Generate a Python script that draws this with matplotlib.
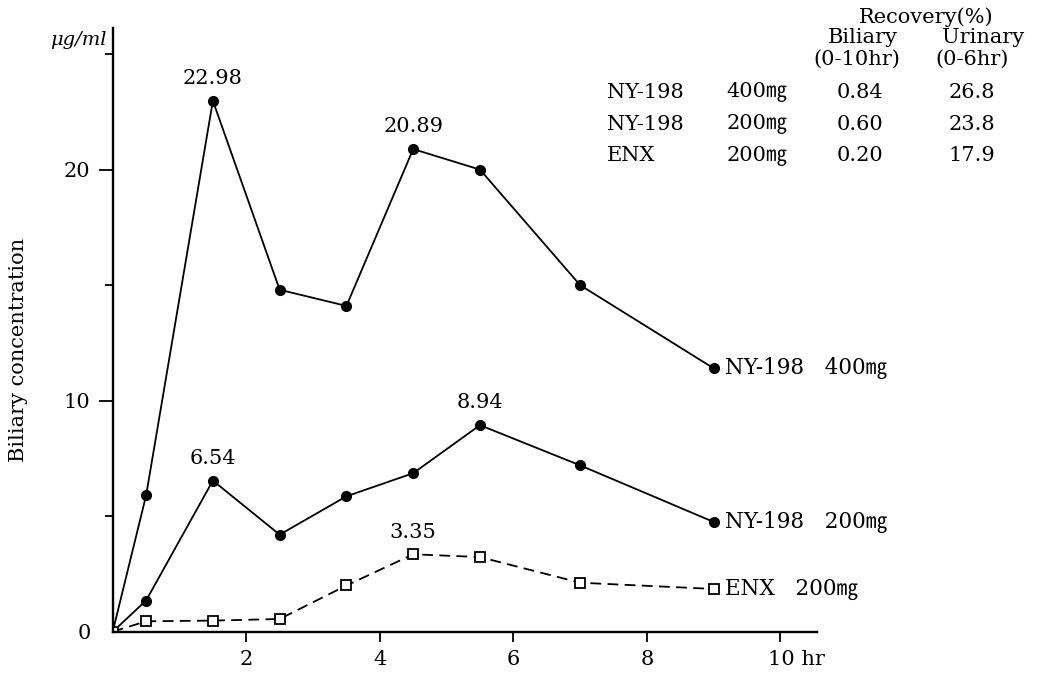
import matplotlib
matplotlib.use("Agg")
import matplotlib.pyplot as plt
import matplotlib.transforms as mtransforms
from matplotlib.ticker import FixedLocator

plt.rcParams['font.family'] = ['DejaVu Serif', 'Noto Sans CJK JP']

# ---- data ----
time_hr = [0, 0.5, 1.5, 2.5, 3.5, 4.5, 5.5, 7, 9]
ny198_400 = [0, 5.9, 22.98, 14.8, 14.1, 20.89, 20.0, 15.0, 11.4]
ny198_200 = [0, 1.35, 6.54, 4.2, 5.86, 6.86, 8.94, 7.2, 4.75]
enx_200 = [0, 0.45, 0.48, 0.55, 2.0, 3.35, 3.23, 2.12, 1.85]

series_labels = ["NY-198   400㎎", "NY-198   200㎎", "ENX   200㎎"]
peak_labels = [(1.5, 22.98, "22.98"), (4.5, 20.89, "20.89"),
               (1.5, 6.54, "6.54"), (5.5, 8.94, "8.94"), (4.5, 3.35, "3.35")]

xtick_vals = [2, 4, 6, 8, 10]
xtick_labels = ["2", "4", "6", "8", "10 hr"]
ytick_major = [0, 10, 20]
ytick_minor = [5, 15, 25]

table_drugs = ["NY-198", "NY-198", "ENX"]
table_doses = ["400㎎", "200㎎", "200㎎"]
table_biliary = ["0.84", "0.60", "0.20"]
table_urinary = ["26.8", "23.8", "17.9"]

# ---- figure ----
fig = plt.figure(figsize=(10.39, 6.78), dpi=100)
ax = fig.add_axes([0.1085, 0.0683, 0.678, 0.8904])
ax.set_xlim(0, 10.55)
ax.set_ylim(0, 26.13)

for s in ["top", "right"]:
    ax.spines[s].set_visible(False)
for s in ["left", "bottom"]:
    ax.spines[s].set_linewidth(1.7)

ax.plot(time_hr, ny198_400, color="black", lw=1.3, marker="o", ms=7, mfc="black", mec="black")
ax.plot(time_hr, ny198_200, color="black", lw=1.3, marker="o", ms=7, mfc="black", mec="black")
ax.plot(time_hr, enx_200, color="black", lw=1.3, ls=(0, (6, 3.5)), marker="s", ms=6.5,
        mfc="white", mec="black", mew=1.3)

# end labels
for ys, lab in zip([ny198_400, ny198_200, enx_200], series_labels):
    ax.annotate(lab, xy=(time_hr[-1], ys[-1]), xytext=(8, 0), textcoords="offset points",
                ha="left", va="center", fontsize=15.5)

# peak labels
for x, y, t in peak_labels:
    ax.annotate(t, xy=(x, y), xytext=(0, 16), textcoords="offset points",
                ha="center", va="center", fontsize=15)

# ticks
ax.set_xticks(xtick_vals)
ax.set_xticklabels(xtick_labels, fontsize=15)
ax.tick_params(axis="x", direction="out", length=7, width=1.3, pad=6)
off = mtransforms.ScaledTranslation(-12 / 100, 0, fig.dpi_scale_trans)
lbl10 = ax.get_xticklabels()[-1]
lbl10.set_horizontalalignment("left")
lbl10.set_transform(lbl10.get_transform() + off)

ax.set_yticks(ytick_major)
ax.set_yticklabels([str(v) for v in ytick_major], fontsize=15)
ax.yaxis.set_minor_locator(FixedLocator(ytick_minor))
ax.tick_params(axis="y", which="major", direction="out", length=10, width=1.3, pad=6)
ax.tick_params(axis="y", which="minor", direction="out", length=6, width=1.3)
ax.yaxis.get_major_ticks()[0].tick1line.set_visible(False)

ax.set_ylabel("Biliary concentration", fontsize=15)
ax.yaxis.set_label_coords(-0.12, 0.467)

fig.text(0.103, 0.941, "μg/ml", ha="right", va="center", fontsize=14, style="italic")

# recovery table
fs = 15
fig.text(0.891, 0.975, "Recovery(%)", ha="center", va="center", fontsize=15)
fig.text(0.8305, 0.944, "Biliary", ha="center", va="center", fontsize=15)
fig.text(0.946, 0.944, "Urinary", ha="center", va="center", fontsize=15)
fig.text(0.825, 0.913, "(0-10hr)", ha="center", va="center", fontsize=15)
fig.text(0.936, 0.913, "(0-6hr)", ha="center", va="center", fontsize=15)
row_y = [0.864, 0.817, 0.770]
for yy, d, dose, b, u in zip(row_y, table_drugs, table_doses, table_biliary, table_urinary):
    fig.text(0.584, yy, d, ha="left", va="center", fontsize=fs)
    fig.text(0.699, yy, dose, ha="left", va="center", fontsize=fs)
    fig.text(0.828, yy, b, ha="center", va="center", fontsize=fs)
    fig.text(0.935, yy, u, ha="center", va="center", fontsize=fs)

fig.savefig("out.png", dpi=100, facecolor="white")
